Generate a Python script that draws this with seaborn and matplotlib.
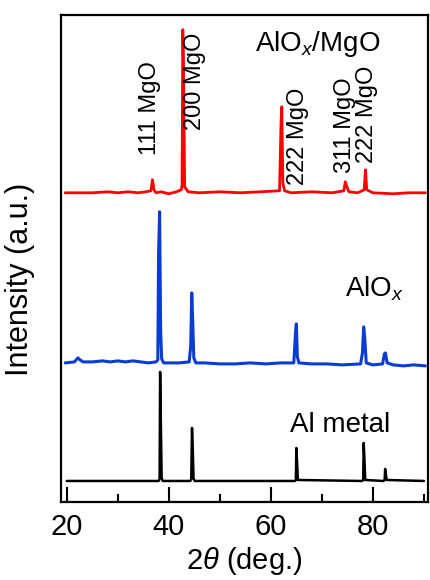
import numpy as np
import pandas as pd
import matplotlib
matplotlib.use("Agg")
import matplotlib.pyplot as plt
import seaborn as sns

# XRD patterns (intensity above each trace's own baseline)
al_x = [20, 38.0, 38.2, 38.3, 38.45, 38.6, 38.8, 44.2, 44.4, 44.55, 44.7, 44.85, 45.1,
        64.7, 64.9, 65.0, 65.15, 65.3, 77.9, 78.1, 78.2, 78.35, 78.5,
        82.1, 82.3, 82.4, 82.55, 82.7, 90]
al_y = [0, 0, 2, 109, 55, 3, 0, 0, 2, 53, 32, 2, 0,
        0, 1, 33, 18, 1, 0, 1, 38, 21, 1,
        0, 1, 12, 7, 1, 0]

alox_x = [19.7, 21.5, 22.2, 22.6, 23.2, 25, 27, 28.5, 30, 31.5, 33, 34.5, 36, 37.5,
          37.85, 38.0, 38.2, 38.4, 38.6, 39.0, 40, 42, 44.0, 44.3, 44.5, 44.7, 44.9, 45.3,
          47, 50, 53, 56, 59, 62, 64.5, 64.85, 65.0, 65.2, 65.5, 68, 71, 74,
          77.6, 77.95, 78.2, 78.4, 78.7, 80, 81.9, 82.25, 82.45, 82.8, 84, 86, 88, 90.3]
alox_y = [0, 1, 5, 3, 1, 1, 2, 1, 2, 1, 2, 1, 0, 1,
          3, 110, 151, 32, 4, 0, 0, 0, 1, 17, 70, 40, 5, 0,
          0, -1, -1, 0, -1, 0, 0, 31, 39, 6, 0, -1, -1, -2,
          -1, 10, 36, 25, 0, -2, -1, 9, 10, 0, -2, -3, -2, -3]

mgo_x = [19.7, 25, 28, 30, 32, 34, 35.5, 36.5, 36.8, 37.1, 37.5, 38.5, 40, 41.5,
         42.45, 42.6, 42.75, 42.9, 43.1, 43.8, 46, 50, 54, 58, 61.7, 62.0, 62.15, 62.35,
         62.7, 64, 68, 72, 74.3, 74.6, 74.9, 75.3, 77, 78.3, 78.55, 78.8, 80, 84, 87, 90.3]
mgo_y = [0, 0, 1, 0, 1, 0, 1, 2, 13, 3, 0, 1, -1, 1,
         3, 8, 163, 123, 6, 1, 0, 1, 0, 1, 2, 70, 86, 10,
         2, 0, 1, 0, 2, 11, 6, 1, 0, 3, 23, 3, 0, -1, 0, 0]

offsets = [22, 140, 310]
colors = ["black", "#0a3cd2", "red"]
names = ["Al metal", r"AlO$_x$", r"AlO$_x$/MgO"]

peak_labels = ["111 MgO", "200 MgO", "222 MgO", "311 MgO", "222 MgO"]
peak_label_x = [36.3, 45.2, 65.35, 74.6, 78.9]
peak_label_y = [348, 373, 318, 330, 340]

sns.set_style("ticks")
plt.rcParams["font.family"] = ["Liberation Sans", "DejaVu Sans"]
plt.rcParams["mathtext.fontset"] = "custom"
plt.rcParams["mathtext.rm"] = "Liberation Sans"
plt.rcParams["mathtext.it"] = "Liberation Sans:italic"
for key in ["text.color", "axes.labelcolor", "xtick.color", "ytick.color", "axes.edgecolor"]:
    plt.rcParams[key] = "black"

fig = plt.figure(figsize=(4.3, 5.8), dpi=100)
ax = fig.add_axes([0.141, 0.1345, 0.8555, 0.8402])

traces = [(al_x, al_y), (alox_x, alox_y), (mgo_x, mgo_y)]
for (xs, ys), off, c, lw in zip(traces, offsets, colors, [1.8, 2.2, 2.0]):
    df = pd.DataFrame({"two_theta": xs, "intensity": np.array(ys) + off})
    sns.lineplot(data=df, x="two_theta", y="intensity", estimator=None, sort=False,
                 color=c, lw=lw, ax=ax)

# sample names
ax.text(63.8, 71.3, names[0], fontsize=20)
ax.text(74.6, 206.3, names[1], fontsize=20)
ax.text(56.9, 451.3, names[2], fontsize=20)

for lab, lx, ly in zip(peak_labels, peak_label_x, peak_label_y):
    ax.text(lx, ly, lab, rotation=90, ha="center", va="bottom", fontsize=17)

ax.set_xlim(18.8, 90.9)
ax.set_ylim(1, 488)
ax.set_xticks([20, 40, 60, 80])
ax.set_xticks([30, 50, 70, 90], minor=True)
ax.set_yticks([])
ax.tick_params(axis="x", which="major", direction="in", length=11, width=1.5,
               labelsize=21, pad=8)
ax.tick_params(axis="x", which="minor", direction="in", length=6, width=1.5)
ax.tick_params(top=False, right=False)
for sp in ax.spines.values():
    sp.set_visible(True)
    sp.set_linewidth(1.6)
    sp.set_color("black")

ax.set_xlabel(r"2$\it{\theta}$ (deg.)", fontsize=21, labelpad=3)
ax.set_ylabel("Intensity (a.u.)", fontsize=22)
ax.yaxis.set_label_coords(-0.07, 0.457)

fig.savefig("out.png", dpi=100)
